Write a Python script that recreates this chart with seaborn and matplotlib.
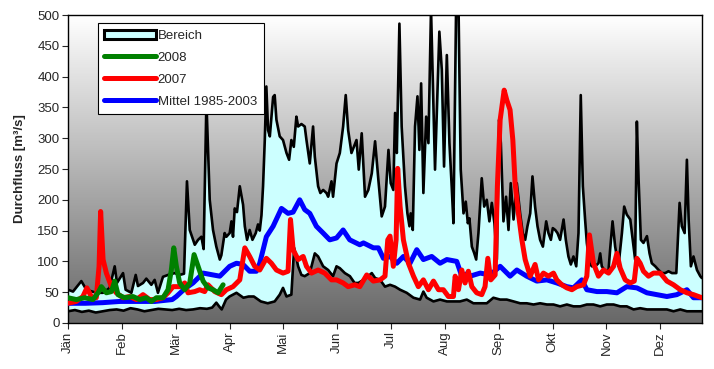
import numpy as np
import pandas as pd
import matplotlib
matplotlib.use("Agg")
import matplotlib.pyplot as plt
from matplotlib.colors import LinearSegmentedColormap
from matplotlib.patches import Patch
from matplotlib.lines import Line2D
import seaborn as sns

# Daily discharge (day of year, m³/s)
range_max = [
    (0, 54), (2.9, 51), (7.7, 68), (10.6, 54), (16.3, 49), (20.2, 49), (24, 57), (26.9, 92),
    (28.2, 65), (31.7, 81), (33.2, 54), (36.5, 49), (39, 78), (40.3, 60), (43.2, 65), (45.1, 72),
    (48, 62), (49.9, 70), (51.8, 49), (54.7, 75), (57.6, 78), (61.4, 81), (64.3, 78), (66.8, 80),
    (68.5, 230), (70.1, 151), (73, 127), (74.9, 135), (76.8, 140), (78.1, 120), (79.7, 360),
    (81.6, 200), (83.5, 151), (85.4, 124), (87.4, 103), (88.3, 110), (90.2, 146), (91.2, 140),
    (93.1, 146), (94.1, 165), (95, 140), (96, 186), (97.3, 180), (98.9, 222), (100.8, 192),
    (101.8, 157), (103.1, 135), (104.6, 151), (106.2, 135), (108.1, 146), (109.4, 160),
    (110.4, 150), (111.4, 175), (112.3, 222), (113.3, 297), (114.2, 384), (115.2, 313),
    (116.2, 303), (118.1, 367), (119, 370), (120, 330), (121.9, 303), (123.8, 297), (125.8, 276),
    (127.3, 265), (128.6, 297), (130, 286), (131.5, 335), (132.5, 319), (134.4, 323), (136.3, 319),
    (137.3, 297), (139.2, 259), (141.1, 319), (142.1, 270), (144, 222), (145.3, 211), (146.9, 216),
    (148.8, 211), (149.8, 205), (151.7, 230), (152.6, 205), (154.6, 259), (156.5, 276),
    (158.4, 319), (159.9, 370), (161.3, 313), (163.2, 276), (164.6, 286), (166.1, 297),
    (167.4, 249), (169.1, 308), (171, 205), (172.9, 216), (174.9, 243), (176.8, 295), (178.7, 232),
    (180.6, 173), (182.5, 189), (184.5, 281), (185.8, 227), (187.3, 216), (188.3, 341),
    (189.3, 276), (190.8, 486), (192.1, 319), (194, 222), (195.4, 178), (196.6, 157), (197.3, 178),
    (198.5, 151), (199.8, 319), (201.2, 368), (202.3, 281), (203.3, 389), (204.6, 211),
    (206.2, 335), (207.5, 292), (209, 510), (211.3, 249), (213.8, 473), (215.2, 411), (216.5, 254),
    (218.1, 435), (219.6, 292), (220.9, 222), (221.9, 162), (223.4, 503), (224.8, 520),
    (226.1, 249), (227.7, 178), (229, 197), (230.2, 162), (231.1, 170), (232.5, 124), (233.8, 114),
    (235, 103), (236.3, 146), (238.2, 235), (239.6, 189), (241.1, 200), (242.6, 165), (244, 195),
    (245.5, 162), (246.9, 103), (248.2, 330), (249.2, 292), (250.7, 165), (252.2, 205),
    (253.6, 151), (254.9, 227), (256.5, 168), (258.4, 227), (260.3, 178), (261.8, 146),
    (263.2, 135), (264.5, 157), (266.1, 178), (267.4, 238), (268.9, 189), (270.3, 157),
    (271.8, 135), (273.4, 124), (275.3, 165), (276.6, 146), (278, 135), (279.1, 154), (280.5, 151),
    (281.8, 146), (283.3, 135), (285.3, 168), (286.6, 135), (288.1, 108), (289.5, 95), (291, 108),
    (292.6, 92), (293.9, 146), (295.2, 370), (296.4, 222), (297.7, 168), (298.7, 130), (300.2, 97),
    (301.6, 92), (303.5, 92), (305.4, 97), (306.4, 113), (307.3, 92), (309.3, 84), (311.2, 86),
    (312.1, 119), (313.5, 165), (315, 124), (316.9, 92), (318.9, 146), (320.2, 189), (321.7, 176),
    (323.7, 168), (325.6, 124), (326.5, 103), (327.5, 327), (328.5, 232), (329.8, 135),
    (331.3, 130), (333.3, 141), (334.8, 113), (336.1, 97), (338.1, 92), (340, 86), (341.9, 81),
    (343.8, 81), (345.7, 84), (347.7, 81), (350.2, 81), (352.1, 195), (353.4, 157), (355, 146),
    (356.3, 265), (357.3, 168), (358.6, 92), (360.1, 108), (362.1, 86), (364, 76), (364.9, 73),
]

range_min = [
    (0, 19), (4, 21), (8, 18), (12, 20), (16, 17), (20, 19), (24, 21), (28, 22), (32, 20),
    (36, 24), (40, 22), (44, 19), (48, 21), (52, 23), (56, 22), (60, 21), (64, 23), (68, 21),
    (72, 22), (76, 24), (80, 23), (83, 25), (85.4, 33), (87, 27), (88.5, 22), (91, 38), (93, 43),
    (97, 49), (101, 41), (104, 43), (107, 43), (111, 35), (115, 32), (119, 35), (121.9, 46),
    (123.8, 57), (125.8, 43), (128.6, 46), (130.2, 122), (132.5, 92), (134.4, 78), (136.3, 76),
    (139.2, 81), (142.1, 113), (144, 108), (146.9, 92), (149.8, 86), (152.6, 76), (154.6, 92),
    (156.5, 89), (159.4, 81), (162.3, 76), (165, 65), (167.2, 65), (170.1, 70), (172.9, 76),
    (174.9, 81), (176.8, 73), (179.7, 70), (182.5, 59), (185.4, 62), (188.3, 59), (191.2, 54),
    (195, 49), (198.9, 41), (202.7, 38), (204.6, 51), (206.5, 41), (210.4, 35), (214.2, 38),
    (218.1, 35), (221.9, 35), (225.7, 35), (229.6, 38), (233.4, 32), (237.3, 32), (241.1, 32),
    (244.9, 41), (248.8, 38), (252.6, 38), (256.5, 35), (260.3, 32), (264.1, 32), (268, 30),
    (271.8, 32), (275.7, 30), (279.5, 30), (283.3, 27), (287.2, 30), (291, 27), (294.9, 27),
    (298.7, 30), (302.5, 30), (306.4, 27), (310.2, 30), (314.1, 30), (317.9, 27), (321.7, 27),
    (325.6, 22), (329.4, 24), (333.3, 22), (337.1, 22), (340.9, 22), (344.8, 22), (348.6, 19),
    (352.5, 22), (356.3, 19), (364.9, 19),
]

mean_1985_2003 = [
    (0, 32), (10, 32), (20, 33), (30, 35), (40, 35), (50, 35), (60, 38), (62.4, 43), (67, 55),
    (72, 65), (77.8, 81), (83.5, 78), (87.4, 76), (93.1, 92), (97, 97), (100.8, 95), (104.6, 84),
    (108.5, 84), (110.4, 97), (114.2, 140), (118.1, 157), (122.9, 186), (126.7, 178), (129.6, 180),
    (133.4, 200), (136.3, 184), (139.2, 178), (143, 157), (146.9, 146), (150.7, 135), (154.6, 138),
    (158.4, 151), (162.2, 135), (168, 127), (170.1, 130), (175.8, 122), (178.7, 122), (181.6, 105),
    (185.4, 108), (189.3, 97), (193.1, 108), (196.9, 97), (200.8, 119), (204.6, 103), (209.4, 108),
    (214.2, 97), (218.1, 103), (223.8, 100), (226.7, 76), (230.5, 81), (231.5, 76), (237.3, 81),
    (243, 78), (248.8, 92), (254.5, 76), (258.4, 86), (264.1, 76), (269.9, 68), (275.7, 70),
    (281.4, 65), (287.2, 59), (291, 57), (295.8, 70), (298.7, 54), (304.5, 51), (310.2, 51),
    (316, 49), (321.7, 59), (327.5, 57), (333.3, 49), (339, 46), (344.8, 43), (350.5, 46),
    (356.3, 54), (360.1, 41), (364.9, 41),
]

year_2007 = [
    (0, 32), (4.8, 35), (8.6, 43), (10.9, 57), (13.4, 43), (16.3, 41), (17.9, 92), (18.8, 181),
    (20.2, 103), (22.1, 81), (25, 59), (27.8, 49), (31.7, 41), (35.5, 43), (39.4, 38), (43.2, 46),
    (47, 38), (50.9, 38), (54.7, 41), (57.6, 49), (60.5, 59), (64.3, 59), (67.2, 65), (69.1, 49),
    (73, 51), (75.8, 54), (78.7, 51), (80.6, 62), (84.5, 51), (88.3, 46), (91.2, 54), (95, 59),
    (98.9, 70), (101.8, 122), (104.6, 108), (107.5, 92), (110.4, 86), (114.2, 105), (117.1, 97),
    (120, 86), (123.8, 81), (126.7, 84), (128.1, 168), (129.6, 119), (132.5, 103), (135.4, 108),
    (137.3, 92), (140.2, 81), (144, 86), (147.8, 81), (151.7, 70), (154.6, 70), (158.4, 65),
    (161.3, 59), (165.1, 62), (168, 59), (172, 78), (175.8, 68), (179.7, 70), (182.5, 76),
    (184.1, 135), (185.4, 141), (187.3, 92), (188.9, 135), (189.8, 251), (191.2, 189),
    (193.1, 135), (196, 97), (198.9, 76), (201.7, 59), (204.6, 70), (207.5, 54), (210.4, 68),
    (213.3, 54), (216.1, 54), (219, 43), (221.9, 43), (222.9, 76), (224.8, 54), (226.7, 86),
    (228.6, 65), (230.5, 84), (232.5, 59), (235.3, 49), (238.2, 46), (240.1, 59), (241.7, 105),
    (243.4, 70), (245.9, 78), (247.2, 222), (248.8, 330), (251.1, 378), (252.6, 362), (254.5, 346),
    (256.1, 297), (257.4, 227), (259.3, 178), (261.3, 135), (263.2, 103), (266.1, 76), (268.9, 95),
    (270.9, 70), (273.7, 81), (276.6, 76), (279.5, 81), (281.4, 70), (284.3, 62), (287.2, 57),
    (290.1, 54), (292.9, 59), (296.8, 62), (298.7, 76), (300.2, 143), (302.5, 97), (305.4, 76),
    (308.3, 86), (311.2, 81), (314.1, 92), (316, 113), (317.9, 89), (320.8, 70), (323.7, 65),
    (326, 68), (327.5, 105), (329.4, 97), (331.3, 84), (334.2, 76), (337.1, 81), (341, 81),
    (344.8, 68), (348.6, 62), (352.5, 54), (356.3, 49), (360.1, 46), (364.9, 41),
]

year_2008 = [
    (0, 41), (4.8, 38), (9.6, 41), (14.4, 38), (17.3, 49), (19.2, 59), (22.1, 49), (25, 51),
    (26.9, 68), (28.8, 46), (32.6, 41), (37.4, 43), (41.3, 38), (45.1, 41), (48, 35), (50.9, 41),
    (54.7, 41), (57.6, 54), (59.5, 86), (60.9, 122), (62.4, 92), (64.3, 65), (67.2, 54), (70.1, 65),
    (72.6, 111), (74.9, 92), (77.8, 68), (80.6, 57), (83.5, 54), (86.4, 49), (89.3, 62),
]

months = ["Jän", "Feb", "Mär", "Apr", "Mai", "Jun", "Jul", "Aug", "Sep", "Okt", "Nov", "Dez"]
month_ticks = [31 * i for i in range(12)]


def frame(points):
    return pd.DataFrame(points, columns=["tag", "q"])


df_max = frame(range_max)
df_min = frame(range_min)
df_mean = frame(mean_1985_2003)
df_2007 = frame(year_2007)
df_2008 = frame(year_2008)

sns.set_theme(style="white")
plt.rcParams["font.family"] = ["Liberation Sans", "DejaVu Sans"]

FS = 9.5

fig = plt.figure(figsize=(7.14, 3.69), dpi=100)
ax = fig.add_axes([0.0952, 0.1247, 0.8880, 0.8346])

# vertical grey gradient behind the plot area
grad = np.linspace(0, 1, 256).reshape(-1, 1)
cmap = LinearSegmentedColormap.from_list("bg", ["#ffffff", "#686868"])
ax.imshow(grad, extent=[0, 1, 0, 1], transform=ax.transAxes, aspect="auto",
          cmap=cmap, origin="upper", zorder=0)

band_color = "#ccffff"
band_x = list(df_max["tag"]) + list(df_min["tag"][::-1])
band_y = list(df_max["q"]) + list(df_min["q"][::-1])
ax.fill(band_x, band_y, color=band_color, lw=0, zorder=1)

sns.lineplot(data=df_max, x="tag", y="q", ax=ax, color="black", lw=1.9, zorder=2,
             estimator=None, sort=False)
sns.lineplot(data=df_min, x="tag", y="q", ax=ax, color="black", lw=1.9, zorder=2,
             estimator=None, sort=False)
sns.lineplot(data=df_mean, x="tag", y="q", ax=ax, color="#0000ff", lw=3.6, zorder=3,
             estimator=None, sort=False)
sns.lineplot(data=df_2007, x="tag", y="q", ax=ax, color="#ff0000", lw=3.6, zorder=4,
             estimator=None, sort=False)
sns.lineplot(data=df_2008, x="tag", y="q", ax=ax, color="#008000", lw=3.6, zorder=5,
             estimator=None, sort=False)

ax.set_xlim(0, 365)
ax.set_ylim(0, 500)
ax.set_yticks(range(0, 501, 50))
ax.set_xticks(month_ticks)
ax.set_xticklabels(months, rotation=90, fontsize=FS)
ax.tick_params(axis="y", labelsize=FS, length=4, width=0.8, direction="out", left=True, pad=2)
ax.tick_params(axis="x", length=4, width=0.8, direction="out", bottom=True, pad=2)
ax.set_xlabel("")
ax.set_ylabel("Durchfluss [m³/s]", fontsize=FS, fontweight="bold", labelpad=8)
for s in ax.spines.values():
    s.set_color("black")
    s.set_linewidth(1.0)

handles = [
    Patch(facecolor=band_color, edgecolor="black", linewidth=2.2),
    Line2D([], [], color="#008000", lw=3.6),
    Line2D([], [], color="#ff0000", lw=3.6),
    Line2D([], [], color="#0000ff", lw=3.6),
]
labels = ["Bereich", "2008", "2007", "Mittel 1985-2003"]
leg = ax.legend(handles, labels, loc="upper left", bbox_to_anchor=(0.047, 0.974),
                fontsize=FS, frameon=True, fancybox=False, framealpha=1,
                edgecolor="black", handlelength=3.9, handleheight=0.75,
                handletextpad=0.15, labelspacing=0.72, borderpad=0.5, borderaxespad=0)
leg.get_frame().set_linewidth(0.8)
leg.set_zorder(10)

fig.savefig("out.png", dpi=100)
